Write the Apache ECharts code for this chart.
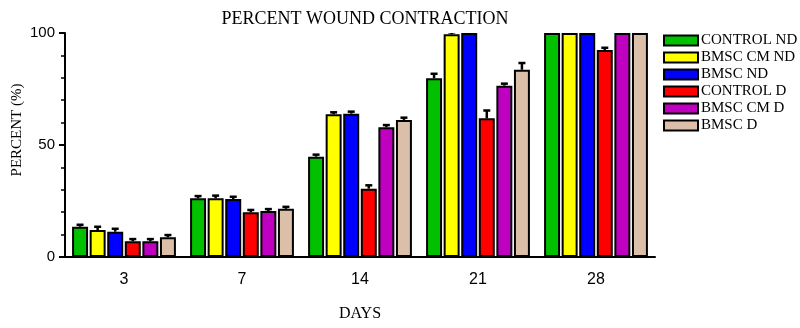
<!DOCTYPE html>
<html>
<head>
<meta charset="utf-8">
<script src="https://cdn.jsdelivr.net/npm/echarts@6/dist/echarts.min.js"></script>
<style>
  html, body { margin: 0; padding: 0; background: #fff; }
  #chart { width: 800px; height: 328px; }
</style>
</head>
<body>
<div id="chart"></div>
<script>
// data
var days = ['3', '7', '14', '21', '28'];
var groupNames = ['CONTROL ND', 'BMSC CM ND', 'BMSC ND', 'CONTROL D', 'BMSC CM D', 'BMSC D'];
var groupColors = ['#00c000', '#ffff00', '#0000ff', '#ff0000', '#c000c0', '#dbbfa8'];

var controlND = [13.5, 26.2, 44.8, 79.8, 100];
var bmscCmND  = [12.0, 26.2, 63.7, 99.4, 100];
var bmscND    = [11.3, 25.9, 64.0, 100, 100];
var controlD  = [7.0, 20.0, 30.5, 61.9, 92.4];
var bmscCmD   = [7.0, 20.5, 57.9, 76.5, 100];
var bmscD     = [8.8, 21.5, 61.2, 83.6, 100];

var errControlND = [0.5, 1.0, 0.8, 2.0, 0];
var errBmscCmND  = [1.5, 1.2, 0.8, 0.3, 0];
var errBmscND    = [1.3, 1.0, 0.8, 0, 0];
var errControlD  = [1.0, 1.0, 1.5, 3.5, 1.0];
var errBmscCmD   = [1.0, 0.8, 1.0, 0.8, 0];
var errBmscD     = [1.0, 0.8, 1.0, 3.0, 0];

var values = [controlND, bmscCmND, bmscND, controlD, bmscCmD, bmscD];
var errors = [errControlND, errBmscCmND, errBmscND, errControlD, errBmscCmD, errBmscD];

var catGap = 0.12;
var barGap = 0.10;

var myChart = echarts.init(document.getElementById('chart'));

var series = [];
values.forEach(function (vals, i) {
    series.push({
        name: groupNames[i],
        type: 'bar',
        data: vals,
        barGap: (barGap * 100) + '%',
        barCategoryGap: (catGap * 100) + '%',
        itemStyle: { color: groupColors[i], borderColor: '#000', borderWidth: 2 },
        z: 2
    });
});

// error bars (upper half only), placed on top of each bar
var errData = [];
values.forEach(function (vals, i) {
    vals.forEach(function (v, j) {
        errData.push([j, i, v, errors[i][j]]);
    });
});

series.push({
    type: 'custom',
    name: 'err',
    data: errData,
    z: 5,
    clip: true,
    renderItem: function (params, api) {
        var cat = api.value(0), idx = api.value(1), v = api.value(2), e = api.value(3);
        var band = api.size([1, 0])[0];
        var n = groupNames.length;
        var bw = band * (1 - catGap) / (n + (n - 1) * barGap);
        var pitch = bw * (1 + barGap);
        var base = api.coord([cat, v]);
        var top = api.coord([cat, v + e]);
        var x = base[0] + (idx - (n - 1) / 2) * pitch;
        var capY = Math.min(top[1], base[1] - 2);
        return {
            type: 'group',
            children: [{
                type: 'line',
                shape: { x1: x, y1: base[1], x2: x, y2: capY },
                style: { stroke: '#000', lineWidth: 2.5 }
            }, {
                type: 'line',
                shape: { x1: x - 3.5, y1: capY, x2: x + 3.5, y2: capY },
                style: { stroke: '#000', lineWidth: 2.5 }
            }]
        };
    }
});

var option = {
    animation: false,
    title: {
        text: 'PERCENT WOUND CONTRACTION',
        left: 360,
        textAlign: 'center',
        top: 5,
        textStyle: { fontFamily: 'Liberation Serif', fontWeight: 'normal', fontSize: 18, color: '#000' }
    },
    legend: {
        data: groupNames,
        orient: 'vertical',
        left: 663,
        top: 33,
        padding: 0,
        itemWidth: 34,
        itemHeight: 10,
        itemGap: 2,
        icon: 'rect',
        textStyle: { fontFamily: 'Liberation Serif', fontSize: 15, lineHeight: 15, color: '#000', padding: [0, 0, 0, -2] }
    },
    grid: { left: 65, right: 145, top: 33, bottom: 71, containLabel: false },
    graphic: [{
        type: 'text',
        x: 17,
        y: 130,
        rotation: Math.PI / 2,
        style: {
            text: 'PERCENT (%)',
            fontFamily: 'Liberation Serif',
            fontSize: 15,
            fill: '#000',
            align: 'center',
            verticalAlign: 'middle'
        }
    }],
    xAxis: {
        type: 'category',
        data: days,
        name: 'DAYS',
        nameLocation: 'middle',
        nameGap: 49,
        nameTextStyle: { fontFamily: 'Liberation Serif', fontSize: 16, color: '#000' },
        axisLine: { lineStyle: { color: '#000', width: 2 } },
        axisTick: { alignWithLabel: true, length: 5, lineStyle: { color: '#000', width: 2 } },
        axisLabel: { fontFamily: 'Liberation Sans', fontSize: 16, color: '#000', margin: 15 }
    },
    yAxis: {
        type: 'value',
        min: 0,
        max: 100,
        interval: 50,
        axisLine: { show: true, lineStyle: { color: '#000', width: 2 } },
        axisTick: { show: true, length: 6, lineStyle: { color: '#000', width: 2 } },
        minorTick: { show: true, splitNumber: 5, length: 4, lineStyle: { color: '#000', width: 1.5 } },
        splitLine: { show: false },
        axisLabel: { fontFamily: 'Liberation Sans', fontSize: 15, color: '#000', margin: 10 }
    },
    series: series
};

myChart.setOption(option);
</script>
</body>
</html>
